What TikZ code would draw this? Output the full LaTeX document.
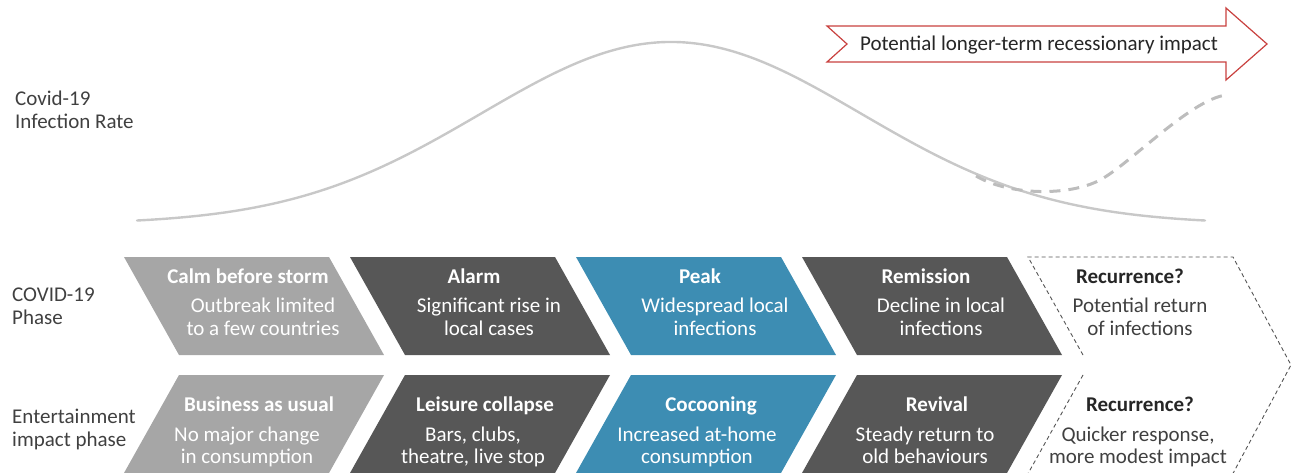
\documentclass[tikz,border=0pt]{standalone}
\usepackage{fontspec}
\setmainfont{Carlito}
\definecolor{lgrey}{HTML}{A6A6A6}
\definecolor{dgrey}{HTML}{575757}
\definecolor{pblue}{HTML}{3D8DB3}
\definecolor{curvec}{HTML}{C8C8C8}
\definecolor{dashc}{HTML}{BDBDBD}
\definecolor{arrowred}{HTML}{C9413F}
\definecolor{labelc}{HTML}{404040}
\definecolor{darktext}{HTML}{262626}
\definecolor{outlinec}{HTML}{555555}
\begin{document}
\begin{tikzpicture}[x=1pt,y=-1pt,
  lbl/.style={font=\fontsize{21}{23}\selectfont, text=labelc, anchor=base west, inner sep=0pt, align=left},
  hd/.style={font=\fontsize{21}{23}\selectfont\bfseries, text=white, anchor=base, inner sep=0pt},
  bd/.style={font=\fontsize{21}{23}\selectfont, text=white, anchor=base, inner sep=0pt, align=center},
  bdlow/.style={bd, font=\fontsize{21}{22}\selectfont},
  curve/.style={curvec, line width=2.4pt, line cap=round},
  recur/.style={dashc, line width=3pt, dash pattern=on 11pt off 8pt},
  outline/.style={outlinec, line width=0.9pt, dash pattern=on 4pt off 3pt},
  banner/.style={draw=arrowred, line width=1.2pt, fill=white, line join=miter}
]
\useasboundingbox (0,0) rectangle (1293,473);

% infection curve
\draw[curve] plot[domain=137:1205, samples=200, smooth] (\x, {224-182*exp(-0.5*((\x-671)/190)^2)});
\draw[recur] (976,176) .. controls (1010,196) and (1070,196) .. (1100,180)
  .. controls (1130,164) and (1190,100) .. (1226,95);

% banner arrow
\draw[banner] (827,26) -- (1226,26) -- (1226,8) -- (1267,44) -- (1226,80) -- (1226,62) -- (827,62) -- (847,44) -- cycle;
\node[font=\fontsize{21}{23}\selectfont, text=darktext, anchor=base, inner sep=0pt] (banner) at (1039,51) {Potential longer-term recessionary impact};

% side labels (base = last line)
\node[lbl] (lab1) at (15,129) {Covid-19\\Infection Rate};
\node[lbl] (lab2) at (12,324) {COVID-19\\Phase};
\node[lbl] (lab3) at (12,446) {Entertainment\\impact phase};

% phase shapes
\foreach \i/\c in {0/lgrey,1/dgrey,2/pblue,3/dgrey}{
  \fill[\c] ({124+226*\i},257) -- ++(205,0) -- ++(55,98) -- ++(-205,0) -- cycle;
  \fill[\c] ({179+226*\i},375) -- ++(205,0) -- ++(-55,98) -- ++(-205,0) -- cycle;
}

% recurrence dashed chevron
\draw[outline] (1083,355) -- (1028,257) -- (1233,257) -- (1291,365) -- (1230,479);
\draw[outline] (1083,375) -- (1025,479);

% top row texts
\node[hd] (calmH) at (248,283) {Calm before storm};
\node[bd] (calmB) at (263,335) {Outbreak limited\\to a few countries};
\node[hd] (alarmH) at (474,283) {Alarm};
\node[bd] (alarmB) at (489,335) {Significant rise in\\local cases};
\node[hd] (peakH) at (700,283) {Peak};
\node[bd] (peakB) at (715,335) {Widespread local\\infections};
\node[hd] (remH) at (926,283) {Remission};
\node[bd] (remB) at (941,335) {Decline in local\\infections};
\node[hd, text=darktext] (rec1H) at (1130,283) {Recurrence?};
\node[bd, text=labelc] (rec1B) at (1140,335) {Potential return\\of infections};

% bottom row texts
\node[hd] (busH) at (259,411) {Business as usual};
\node[bdlow] (busB) at (247,463) {No major change\\in consumption};
\node[hd] (leisH) at (485,411) {Leisure collapse};
\node[bdlow] (leisB) at (473,463) {Bars, clubs,\\theatre, live stop};
\node[hd] (cocH) at (711,411) {Cocooning};
\node[bdlow] (cocB) at (697,463) {Increased at-home\\consumption};
\node[hd] (revH) at (937,411) {Revival};
\node[bdlow] (revB) at (925,463) {Steady return to\\old behaviours};
\node[hd, text=darktext] (rec2H) at (1140,411) {Recurrence?};
\node[bdlow, text=labelc] (rec2B) at (1138,463) {Quicker response,\\more modest impact};
\end{tikzpicture}
\end{document}
